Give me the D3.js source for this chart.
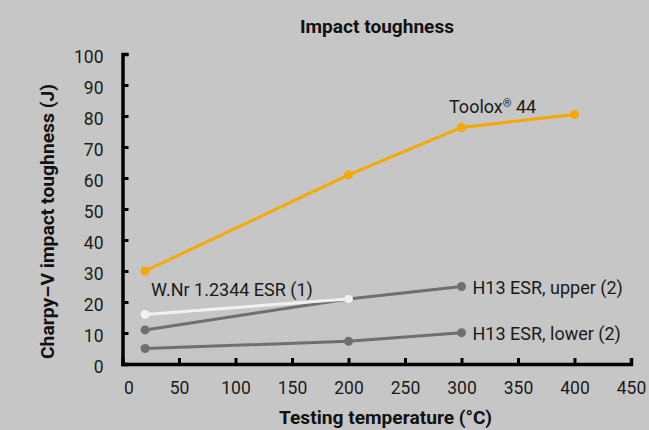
<!DOCTYPE html>
<html><head><meta charset="utf-8">
<script src="https://cdn.jsdelivr.net/npm/d3@7"></script>
<style>
html,body{margin:0;padding:0;background:#c6c6c6;}
svg{display:block;font-family:Roboto,"Liberation Sans",sans-serif;}
</style></head>
<body><svg id="chart" width="649" height="430"></svg>
<script>
const temperatures = [20, 200, 300, 400];
const tooloxValues = [30, 61, 76.3, 80.5];
const wnrTemps = [20, 200];
const wnrValues = [16, 21];
const h13Temps = [20, 200, 300];
const h13UpperValues = [11, 21, 25];
const h13LowerValues = [5, 7.3, 10.1];
const xTicks = [0, 50, 100, 150, 200, 250, 300, 350, 400, 450];
const yTicks = [0, 10, 20, 30, 40, 50, 60, 70, 80, 90, 100];

const series = [
  {name: "Toolox® 44", x: temperatures, y: tooloxValues, color: "#f5a800"},
  {name: "W.Nr 1.2344 ESR (1)", x: wnrTemps, y: wnrValues, color: "#f2f2f2"},
  {name: "H13 ESR, upper (2)", x: h13Temps, y: h13UpperValues, color: "#6f6f6f"},
  {name: "H13 ESR, lower (2)", x: h13Temps, y: h13LowerValues, color: "#6f6f6f"}
];

const svg = d3.select("#chart");
const x = d3.scaleLinear().domain([0, 450]).range([122.5, 631]);
const y = d3.scaleLinear().domain([0, 100]).range([364, 54]);

const bold = (t, sel, len) => sel.attr("font-size", 18.5).attr("font-weight", 700)
  .attr("fill", "#111").attr("textLength", len).attr("lengthAdjust", "spacingAndGlyphs").text(t);

// Title
bold("Impact toughness", svg.append("text").attr("x", 377).attr("y", 33).attr("text-anchor", "middle"), 154);

// Axes
const gx = svg.append("g").attr("transform", `translate(0,${y(0)})`)
  .call(d3.axisBottom(x).tickValues(xTicks).tickSizeInner(-6).tickSizeOuter(-6).tickPadding(16));
const gy = svg.append("g").attr("transform", `translate(${x(0)},0)`)
  .call(d3.axisLeft(y).tickValues(yTicks).tickSizeInner(-6).tickSizeOuter(-6).tickPadding(19));
[gx, gy].forEach(g => {
  g.select(".domain").attr("stroke", "#000").attr("stroke-width", 3.5);
  g.selectAll(".tick line").attr("stroke", "#000").attr("stroke-width", 3);
  g.selectAll(".tick text").attr("fill", "#1a1a1a").attr("font-size", 17.5)
    .attr("font-family", "Roboto, sans-serif").attr("font-weight", 400);
});
gy.selectAll(".tick text").attr("dy", "0.5em");
gx.selectAll(".tick text").attr("dy", "0.8em");
gx.selectAll(".tick").filter(d => d === 0).select("line").remove();
gx.selectAll(".tick").filter(d => d === 0).select("text").attr("dx", 6);
gy.selectAll(".tick").filter(d => d === 0).select("line").remove();

// Axis labels
bold("Testing temperature (°C)", svg.append("text").attr("x", 385.5).attr("y", 424).attr("text-anchor", "middle"), 213);
bold("Charpy–V impact toughness (J)", svg.append("text").attr("transform", "translate(54,221.5) rotate(-90)").attr("text-anchor", "middle"), 275);

// Lines
const line = d3.line().x(d => x(d[0])).y(d => y(d[1]));
const order = [2, 3, 1, 0];
order.forEach(i => {
  const s = series[i];
  const pts = s.x.map((v, j) => [v, s.y[j]]);
  svg.append("path").datum(pts).attr("d", line).attr("fill", "none")
    .attr("stroke", s.color).attr("stroke-width", 3);
  svg.selectAll(null).data(pts).enter().append("circle")
    .attr("cx", d => x(d[0])).attr("cy", d => y(d[1])).attr("r", 4.5).attr("fill", s.color);
});

// Series labels
const lab = (t, xx, yy) => svg.append("text").attr("x", xx).attr("y", yy)
  .attr("font-size", 18).attr("font-weight", 400).attr("fill", "#1a1a1a").text(t);
const tl = svg.append("text").attr("x", 449).attr("y", 113)
  .attr("font-size", 18).attr("font-weight", 400).attr("fill", "#1a1a1a");
tl.append("tspan").text("Toolox");
tl.append("tspan").attr("font-size", 11).attr("dy", -6).text("®");
tl.append("tspan").attr("dy", 6).text(" 44");
lab("W.Nr 1.2344 ESR (1)", 151, 296);
lab("H13 ESR, upper (2)", x(300) + 11, y(25) + 7);
lab("H13 ESR, lower (2)", x(300) + 11, y(10.1) + 7);
</script></body></html>
